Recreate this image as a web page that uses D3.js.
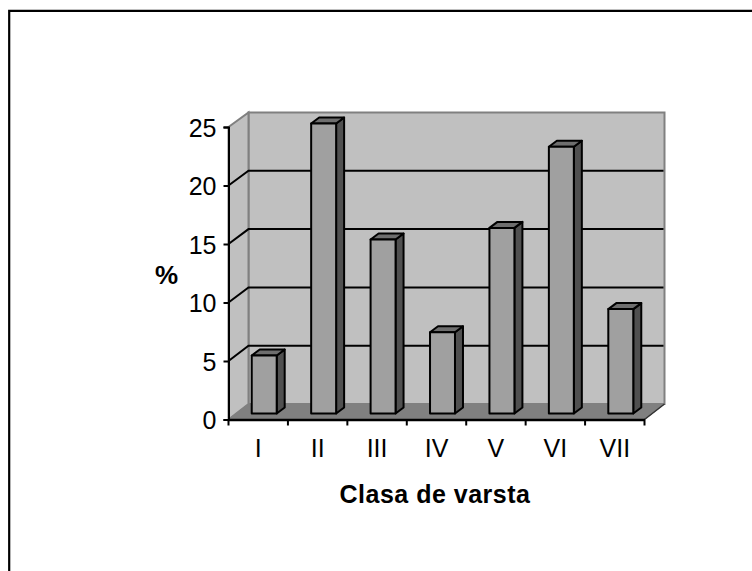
<!DOCTYPE html>
<html>
<head>
<meta charset="utf-8">
<script src="https://cdn.jsdelivr.net/npm/d3@7"></script>
<style>
html, body { margin: 0; padding: 0; background: #fff; }
svg { display: block; }
text { font-family: "Liberation Sans", Arial, sans-serif; fill: #000; }
</style>
</head>
<body>
<svg id="chart" width="752" height="571"></svg>
<script>
var categories = ["I", "II", "III", "IV", "V", "VI", "VII"];
var values = [5, 25, 15, 7, 16, 23, 9];
var yTicks = [0, 5, 10, 15, 20, 25];
var xTitle = "Clasa de varsta";
var yTitle = "%";

var svg = d3.select("#chart");

// chart frame, runs off the page at the right and the bottom
svg.append("path")
    .attr("d", "M9.2,571V10.8H752")
    .attr("fill", "none")
    .attr("stroke", "#000")
    .attr("stroke-width", 2.2);

var left = 228.5, right = 644.5;
var depthX = 20;
var barShift = 6;
var barDepthX = 8, barDepthY = 6;

var xScale = d3.scaleBand()
    .domain(categories)
    .range([left, right])
    .paddingInner(0.58)
    .paddingOuter(0.29);

// bars sit a little behind the front plane, so they shift right
var xBar = d3.scaleBand()
    .domain(categories)
    .range([left + barShift, right + barShift])
    .paddingInner(0.58)
    .paddingOuter(0.29);

// front plane of the axis box
var yAxisScale = d3.scaleLinear().domain([0, 25]).range([419.5, 127]);
// back wall
var yBack = d3.scaleLinear().domain([0, 25]).range([404, 112.5]);
// bars
var yBar = d3.scaleLinear().domain([0, 25]).range([413.5, 123.5]);

function pts(list) {
    return list.map(function(p) { return p.join(","); }).join(" ");
}

// back wall
svg.append("polygon")
    .attr("points", pts([
        [left + depthX, yBack(25)],
        [right + depthX, yBack(25)],
        [right + depthX, yBack(0)],
        [left + depthX, yBack(0)]
    ]))
    .attr("fill", "#c0c0c0")
    .attr("stroke", "#808080")
    .attr("stroke-width", 2);

// side wall
svg.append("polygon")
    .attr("points", pts([
        [left, yAxisScale(25)],
        [left + depthX, yBack(25)],
        [left + depthX, yBack(0)],
        [left, yAxisScale(0)]
    ]))
    .attr("fill", "#c0c0c0")
    .attr("stroke", "#808080")
    .attr("stroke-width", 2);

// floor
svg.append("polygon")
    .attr("points", pts([
        [left, yAxisScale(0)],
        [left + depthX, yBack(0)],
        [right + depthX, yBack(0)],
        [right, yAxisScale(0)]
    ]))
    .attr("fill", "#808080")
    .attr("stroke", "#808080");

svg.append("line")
    .attr("x1", right)
    .attr("y1", yAxisScale(0))
    .attr("x2", right + depthX)
    .attr("y2", yBack(0))
    .attr("stroke", "#333")
    .attr("stroke-width", 1.5);

// gridlines on side and back wall
yTicks.filter(function(d) { return d > 0 && d < 25; }).forEach(function(d) {
    svg.append("polyline")
        .attr("points", pts([
            [left, yAxisScale(d)],
            [left + depthX, yBack(d)],
            [right + depthX - 1, yBack(d)]
        ]))
        .attr("fill", "none")
        .attr("stroke", "#000")
        .attr("stroke-width", 2);
});

// bars: side, top, front
var bars = svg.append("g")
    .selectAll("g")
    .data(values)
    .enter()
    .append("g")
    .attr("stroke", "#000")
    .attr("stroke-width", 2)
    .attr("stroke-linejoin", "round");

function barX(i) { return xBar(categories[i]); }

bars.append("polygon")
    .attr("fill", "#505050")
    .attr("points", function(d, i) {
        var x1 = barX(i) + xBar.bandwidth();
        return pts([
            [x1, yBar(d)],
            [x1 + barDepthX, yBar(d) - barDepthY],
            [x1 + barDepthX, yBar(0) - barDepthY],
            [x1, yBar(0)]
        ]);
    });

bars.append("polygon")
    .attr("fill", "#6e6e6e")
    .attr("points", function(d, i) {
        var x0 = barX(i), x1 = x0 + xBar.bandwidth();
        return pts([
            [x0, yBar(d)],
            [x0 + barDepthX, yBar(d) - barDepthY],
            [x1 + barDepthX, yBar(d) - barDepthY],
            [x1, yBar(d)]
        ]);
    });

bars.append("rect")
    .attr("fill", "#a0a0a0")
    .attr("x", function(d, i) { return barX(i); })
    .attr("y", function(d) { return yBar(d); })
    .attr("width", xBar.bandwidth())
    .attr("height", function(d) { return yBar(0) - yBar(d); });

// axes
var xAxis = d3.axisBottom(xScale).tickSize(0).tickPadding(20);
var gx = svg.append("g")
    .attr("transform", "translate(0," + yAxisScale(0) + ")")
    .call(xAxis);
gx.select(".domain").attr("stroke", "#000").attr("stroke-width", 2.5);
gx.selectAll("text").style("font-size", "25px").attr("fill", "#000");

// x ticks sit between the categories
var step = xScale.step();
svg.append("g")
    .selectAll("line")
    .data(d3.range(categories.length + 1))
    .enter()
    .append("line")
    .attr("x1", function(d) { return left + d * step; })
    .attr("x2", function(d) { return left + d * step; })
    .attr("y1", yAxisScale(0))
    .attr("y2", yAxisScale(0) + 6)
    .attr("stroke", "#000")
    .attr("stroke-width", 2);

var yAxis = d3.axisLeft(yAxisScale).tickValues(yTicks).tickSize(5).tickPadding(7);
var gy = svg.append("g")
    .attr("transform", "translate(" + left + ",0)")
    .call(yAxis);
gy.select(".domain").attr("stroke", "#000").attr("stroke-width", 2);
gy.selectAll("line").attr("stroke", "#000").attr("stroke-width", 2);
gy.selectAll("text")
    .attr("dy", "0.37em")
    .style("font-size", "25px")
    .attr("fill", "#000");

svg.append("text")
    .attr("x", 435)
    .attr("y", 503)
    .attr("text-anchor", "middle")
    .style("font-size", "25px")
    .style("letter-spacing", "0.5px")
    .style("font-weight", "bold")
    .text(xTitle);

svg.append("text")
    .attr("x", 166.5)
    .attr("y", 284)
    .attr("text-anchor", "middle")
    .style("font-size", "26px")
    .style("font-weight", "bold")
    .text(yTitle);
</script>
</body>
</html>
